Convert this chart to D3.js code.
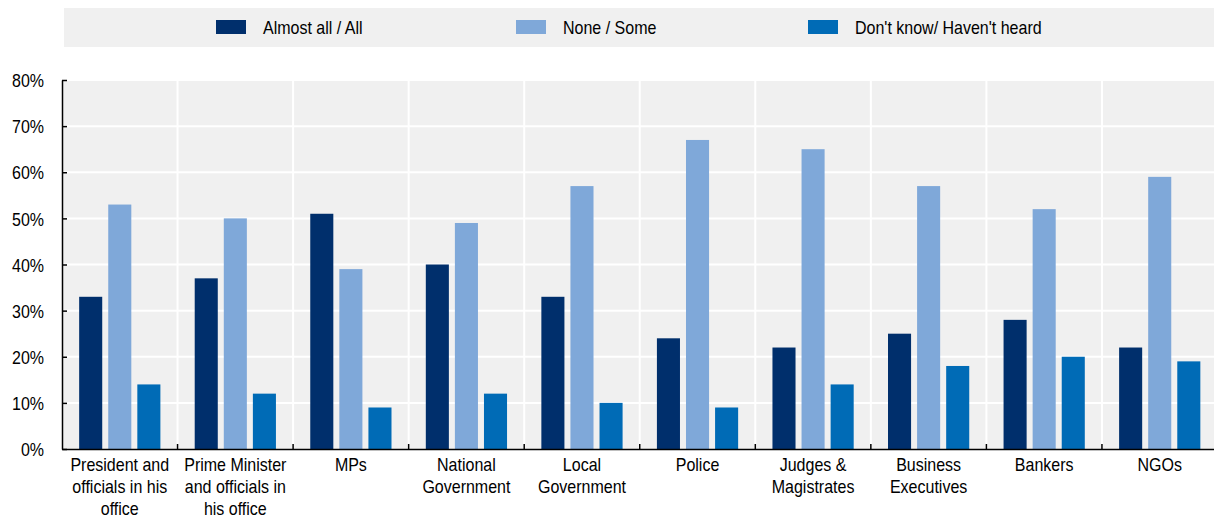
<!DOCTYPE html>
<html>
<head>
<meta charset="utf-8">
<script src="https://cdn.jsdelivr.net/npm/d3@7"></script>
<style>
  html, body { margin: 0; padding: 0; background: #fff; }
  svg { display: block; }
  text { font-family: "Liberation Sans", Arial, sans-serif; fill: #000; }
</style>
</head>
<body>
<svg id="chart" width="1214" height="520"></svg>
<script>
// Trust in institutions, share of respondents by answer
const categories = [
  ["President and", "officials in his", "office"],
  ["Prime Minister", "and officials in", "his office"],
  ["MPs"],
  ["National", "Government"],
  ["Local", "Government"],
  ["Police"],
  ["Judges &", "Magistrates"],
  ["Business", "Executives"],
  ["Bankers"],
  ["NGOs"]
];
const seriesNames = ["Almost all / All", "None / Some", "Don't know/ Haven't heard"];
const almostAll = [33, 37, 51, 40, 33, 24, 22, 25, 28, 22];
const noneSome  = [53, 50, 39, 49, 57, 67, 65, 57, 52, 59];
const dontKnow  = [14, 12,  9, 12, 10,  9, 14, 18, 20, 19];
const yTicks = [0, 10, 20, 30, 40, 50, 60, 70, 80];
const colors = ["#002F6C", "#7FA8D9", "#006BB6"];

const seriesValues = [almostAll, noneSome, dontKnow];
const svg = d3.select("#chart");

const plot = { left: 62, right: 1214, top: 80, bottom: 449 };
const FONT = 18, SQUEEZE = 0.89;

// Narrow-looking text: larger size, compressed horizontally
function condense(sel) {
  sel.each(function () {
    const t = d3.select(this);
    t.attr("font-size", FONT).attr("transform", `scale(${SQUEEZE},1)`);
    const nodes = [this, ...t.selectAll("tspan").nodes()];
    nodes.forEach(n => {
      const xv = n.getAttribute("x");
      if (xv !== null) n.setAttribute("x", (+xv) / SQUEEZE);
    });
  });
}

// Legend band
const legend = svg.append("g");
legend.append("rect")
  .attr("x", 64).attr("y", 8)
  .attr("width", 1150).attr("height", 39)
  .attr("fill", "#F0F0F0");
const legendX = [216, 516, 808];
seriesNames.forEach((name, i) => {
  legend.append("rect")
    .attr("x", legendX[i]).attr("y", 20)
    .attr("width", 30).attr("height", 14)
    .attr("fill", colors[i]);
  legend.append("text")
    .attr("class", "lbl")
    .attr("x", legendX[i] + 47).attr("y", 34)
    .text(name);
});

const keys = categories.map(c => c.join(" "));
const x = d3.scaleBand().domain(keys).range([plot.left, 1217.5]);
const xInner = d3.scaleBand().domain(d3.range(seriesNames.length))
  .range([0, x.bandwidth()]).paddingInner(0.207).paddingOuter(0.59);
const y = d3.scaleLinear().domain([0, 80]).range([plot.bottom, plot.top]);

// Plot background
svg.append("rect")
  .attr("x", plot.left).attr("y", plot.top)
  .attr("width", plot.right - plot.left).attr("height", plot.bottom - plot.top)
  .attr("fill", "#F0F0F0");

// Horizontal gridlines
svg.append("g").selectAll("line").data(yTicks.slice(1)).join("line")
  .attr("x1", plot.left).attr("x2", plot.right)
  .attr("y1", d => y(d)).attr("y2", d => y(d))
  .attr("stroke", "#fff").attr("stroke-width", 2);

// Vertical separators between categories
svg.append("g").selectAll("line").data(keys.slice(1)).join("line")
  .attr("x1", d => x(d)).attr("x2", d => x(d))
  .attr("y1", plot.top).attr("y2", plot.bottom)
  .attr("stroke", "#fff").attr("stroke-width", 2);

// Bars
const bars = svg.append("g");
keys.forEach((k, ci) => {
  seriesValues.forEach((vals, si) => {
    bars.append("rect")
      .attr("x", x(k) + xInner(si))
      .attr("y", y(vals[ci]))
      .attr("width", xInner.bandwidth())
      .attr("height", y(0) - y(vals[ci]))
      .attr("fill", colors[si]);
  });
});

// Y axis
const yAxis = svg.append("g")
  .attr("transform", `translate(${plot.left},0)`)
  .call(d3.axisLeft(y).tickValues(yTicks).tickFormat(d => d + "%").tickSizeInner(-5).tickSizeOuter(0).tickPadding(18));
yAxis.select(".domain").attr("stroke", "#000").attr("stroke-width", 1.5);
yAxis.selectAll(".tick line").attr("stroke", "#000").attr("stroke-width", 1.5);
yAxis.selectAll(".tick text")
  .attr("font-family", "Liberation Sans, Arial, sans-serif")
  .attr("fill", "#000").attr("dy", "0.37em")
  .attr("class", "lbl");

// X axis
const xAxis = svg.append("g")
  .attr("transform", `translate(0,${plot.bottom})`)
  .call(d3.axisBottom(x).tickValues([]).tickSizeOuter(0));
xAxis.select(".domain").attr("stroke", "#000").attr("stroke-width", 1.5);
xAxis.selectAll(".sep").data(keys.slice(1)).join("line")
  .attr("class", "sep")
  .attr("x1", d => x(d)).attr("x2", d => x(d))
  .attr("y1", 0).attr("y2", -5)
  .attr("stroke", "#000").attr("stroke-width", 1.5);

// Category labels
const labels = svg.append("g");
categories.forEach((lines, ci) => {
  const cx = x(keys[ci]) + x.bandwidth() / 2;
  const t = labels.append("text")
    .attr("class", "lbl")
    .attr("text-anchor", "middle")
    .attr("x", cx)
    .attr("y", 471.5);
  lines.forEach((line, li) => {
    t.append("tspan")
      .attr("x", cx)
      .attr("dy", li === 0 ? 0 : 22)
      .text(line);
  });
});

condense(svg.selectAll("text.lbl"));
</script>
</body>
</html>
